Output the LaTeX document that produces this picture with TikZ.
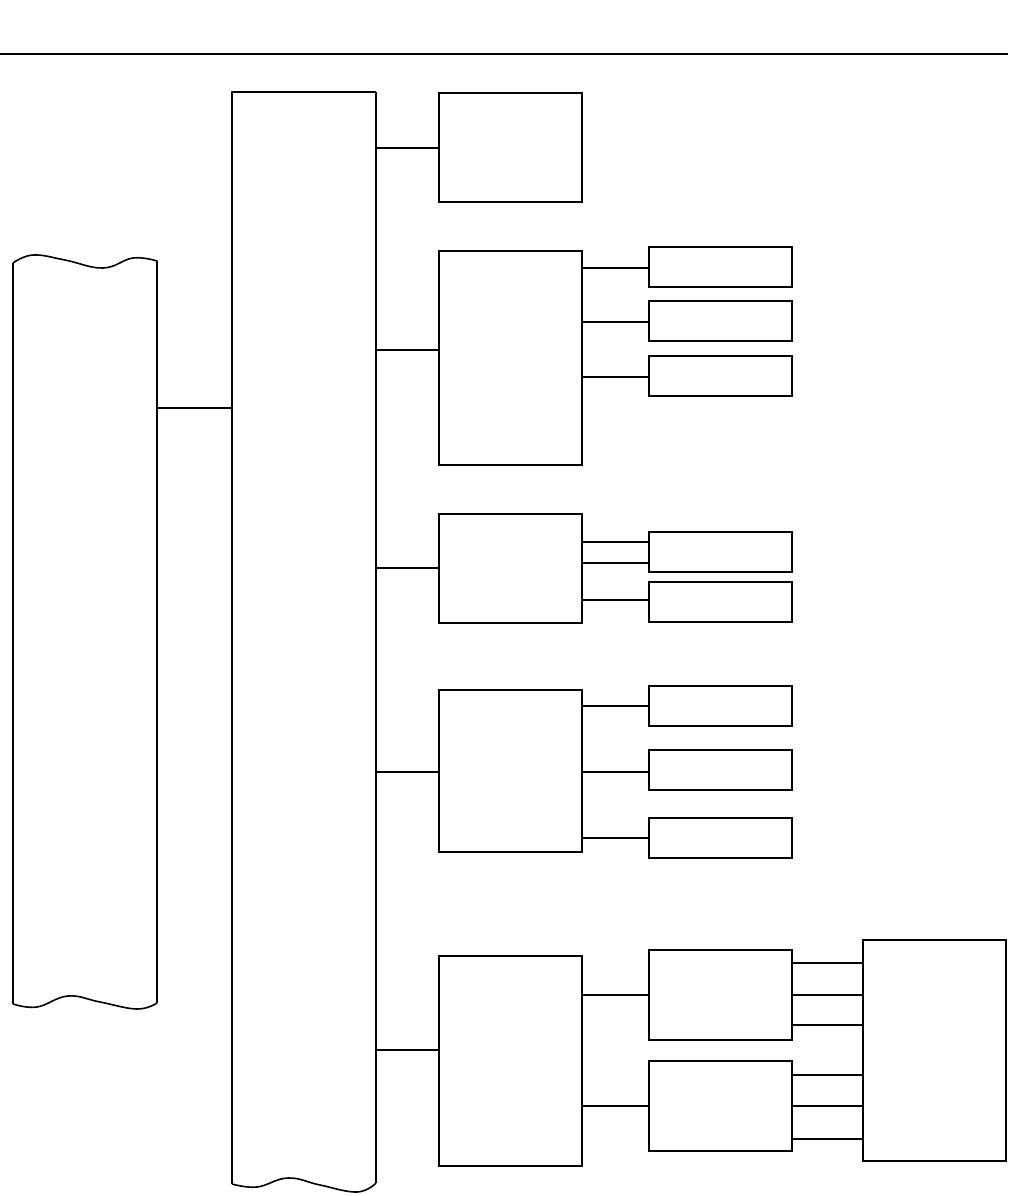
\documentclass[tikz,border=0pt]{standalone}
\begin{document}
\begin{tikzpicture}[x=1pt,y=-1pt,
  box/.style={draw, line width=1.6pt, rectangle, inner sep=0pt, outer sep=0pt, anchor=north west},
  ghost/.style={draw=none, rectangle, inner sep=0pt, outer sep=0pt, anchor=north west},
  ln/.style={line width=1.3pt},
  thk/.style={line width=2.6pt},
  edge/.style={line width=1.6pt, line join=round}]
\useasboundingbox (0,0) rectangle (1010,1196);
% top rule
\coordinate (r1) at (0,54);
\coordinate (r2) at (1008,54);
\draw[line width=1.3pt] (r1) -- (r2);

% left tape
\node[ghost, minimum width=144pt, minimum height=741pt] (tape) at (13,263) {};
\draw[edge] (13,1004) -- (13,263)
  plot[smooth, tension=0.7] coordinates {(13,263) (33,255) (65,260) (103,268) (133,258) (157,261)}
  -- (157,1003);
\draw[edge] plot[smooth, tension=0.7] coordinates {(157,1003) (137,1009) (100,1002) (68,996) (37,1007) (13,1004)};

% main tall box
\node[ghost, minimum width=144pt, minimum height=1092pt] (main) at (232,92) {};
\draw[edge] (232,1184) -- (232,92) -- (376,92);
\draw[line width=2.2pt] (376,92) -- (376,1183);
\draw[edge] plot[smooth, tension=0.7] coordinates {(376,1183) (357,1192) (320,1185) (288,1178) (257,1187) (232,1184)};

% second column
\node[box, minimum width=143pt, minimum height=109pt] (A) at (439,93) {};
\node[box, minimum width=143pt, minimum height=214pt] (B) at (439,251) {};
\node[box, minimum width=143pt, minimum height=109pt] (C) at (439,514) {};
\node[box, minimum width=143pt, minimum height=162pt] (D) at (439,690) {};
\node[box, minimum width=143pt, minimum height=210pt] (E) at (439,956) {};

% third column
\node[box, minimum width=143pt, minimum height=40pt] (B1) at (649,247) {};
\node[box, minimum width=143pt, minimum height=40pt] (B2) at (649,301) {};
\node[box, minimum width=143pt, minimum height=40pt] (B3) at (649,356) {};
\node[box, minimum width=143pt, minimum height=40pt] (C1) at (649,532) {};
\node[box, minimum width=143pt, minimum height=40pt] (C2) at (649,582) {};
\node[box, minimum width=143pt, minimum height=40pt] (D1) at (649,686) {};
\node[box, minimum width=143pt, minimum height=40pt] (D2) at (649,750) {};
\node[box, minimum width=143pt, minimum height=40pt] (D3) at (649,818) {};
\node[box, minimum width=143pt, minimum height=90pt] (E1) at (649,950) {};
\node[box, minimum width=143pt, minimum height=90pt] (E2) at (649,1061) {};

% fourth column
\node[box, minimum width=143pt, minimum height=221pt] (F) at (863,940) {};

% connectors
\draw[ln] (tape.east |- 0,408) -- (main.west |- 0,408);
\draw[ln] (main.east |- 0,148) -- (A.west |- 0,148);
\draw[ln] (main.east |- 0,350) -- (B.west |- 0,350);
\draw[ln] (main.east |- 0,568) -- (C.west |- 0,568);
\draw[thk] (main.east |- 0,772) -- (D.west |- 0,772);
\draw[ln] (main.east |- 0,1050) -- (E.west |- 0,1050);

\draw[ln] (B.east |- 0,268) -- (B1.west |- 0,268);
\draw[ln] (B.east |- 0,322) -- (B2.west |- 0,322);
\draw[thk] (B.east |- 0,377) -- (B3.west |- 0,377);

\draw[thk] (C.east |- 0,542) -- (C1.west |- 0,542);
\draw[ln] (C.east |- 0,563) -- (C1.west |- 0,563);
\draw[ln] (C.east |- 0,600) -- (C2.west |- 0,600);

\draw[ln] (D.east |- 0,706) -- (D1.west |- 0,706);
\draw[thk] (D.east |- 0,772) -- (D2.west |- 0,772);
\draw[ln] (D.east |- 0,838) -- (D3.west |- 0,838);

\draw[ln] (E.east |- 0,995) -- (E1.west |- 0,995);
\draw[ln] (E.east |- 0,1106) -- (E2.west |- 0,1106);

\draw[ln] (E1.east |- 0,963) -- (F.west |- 0,963);
\draw[thk] (E1.east |- 0,995) -- (F.west |- 0,995);
\draw[thk] (E1.east |- 0,1025) -- (F.west |- 0,1025);
\draw[thk] (E2.east |- 0,1075) -- (F.west |- 0,1075);
\draw[ln] (E2.east |- 0,1106) -- (F.west |- 0,1106);
\draw[ln] (E2.east |- 0,1139) -- (F.west |- 0,1139);
\end{tikzpicture}
\end{document}
